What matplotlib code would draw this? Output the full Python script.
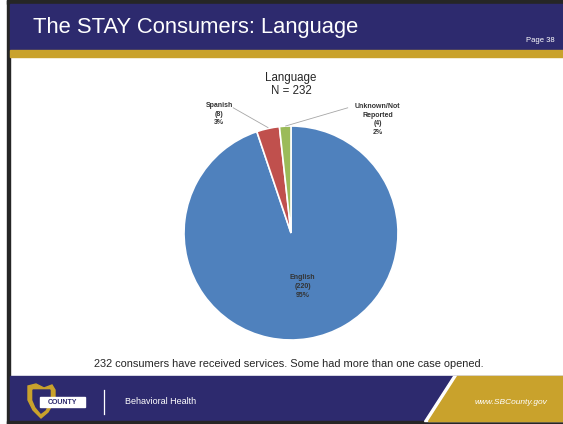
import matplotlib
matplotlib.use('Agg')
import matplotlib.pyplot as plt
from matplotlib.patches import Rectangle, Polygon

plt.rcParams['font.family'] = ['Liberation Sans', 'DejaVu Sans']

# data
labels = ['English', 'Spanish', 'Unknown/Not\nReported']
counts = [220, 8, 4]
percents = ['95%', '3%', '2%']
colors = ['#4F81BD', '#C0504D', '#9BBB59']
total = 232

W, H = 563, 424
fig = plt.figure(figsize=(W / 100, H / 100), dpi=100)

# slide background in pixel coords
bg = fig.add_axes([0, 0, 1, 1])
bg.set_xlim(0, W)
bg.set_ylim(H, 0)
bg.axis('off')

navy = '#2D2A6E'
gold = '#C9A22C'
dark = '#262626'

bg.add_patch(Rectangle((0, 0), W, H, color='white'))
bg.add_patch(Rectangle((7, 0), W, 4, color=dark))
bg.add_patch(Rectangle((7, 0), 3, H, color=dark))
bg.add_patch(Rectangle((10, 4), W, 46, color=navy))
bg.add_patch(Rectangle((10, 50), W, 7, color=gold))
bg.text(33, 28, 'The STAY Consumers: Language', color='white', fontsize=15.8,
        va='center', ha='left')
bg.text(555, 41, 'Page 38', color='white', fontsize=5.5, va='center', ha='right')

# footer
bg.add_patch(Rectangle((10, 376), W, 46, color=navy))
bg.add_patch(Rectangle((7, 421), W, 3, color=dark))
bg.add_patch(Polygon([(453, 376), (W, 376), (W, 421), (424, 421)], color='white'))
bg.add_patch(Polygon([(457, 376), (W, 376), (W, 421), (428, 421)], color=gold))
bg.plot([104, 104], [390, 414], color='white', lw=0.9)
bg.text(125, 402, 'Behavioral Health', color='white', fontsize=6.5, va='center')
bg.text(547, 402, 'www.SBCounty.gov', color='white', fontsize=6, va='center',
        ha='right', style='italic')

# logo
bg.add_patch(Polygon([(28, 386), (36, 384), (44, 388), (52, 385), (55, 390),
                      (55, 400), (48, 412), (41, 418), (33, 410), (28, 400)],
                     color=gold))
bg.add_patch(Polygon([(33, 390), (50, 390), (50, 400), (45, 410), (41, 413),
                      (36, 407), (33, 400)], color=navy))
bg.add_patch(Rectangle((40, 397), 45, 10, color='white'))
bg.text(62, 402, 'COUNTY', color=navy, fontsize=5, fontweight='bold',
        ha='center', va='center')

bg.text(289, 364, '232 consumers have received services. Some had more than one case opened.',
        fontsize=7.9, color='#262626', ha='center', va='center')

# pie
cx, cy, r = 291, 233, 107
ax = fig.add_axes([(cx - r) / W, (H - cy - r) / H, 2 * r / W, 2 * r / H])
wedges, _ = ax.pie(counts, colors=colors, startangle=90, counterclock=False,
                   wedgeprops=dict(edgecolor='white', linewidth=1.2))
ax.set_xlim(-1, 1)
ax.set_ylim(-1, 1)
ax.set_aspect('equal')
ax.axis('off')

ax.text(0, 1.39, 'Language\nN = %d' % total, ha='center', va='center',
        fontsize=8.3, color='#262626', linespacing=1.1)

lab_pos = [(0.11, -0.50), (-0.67, 1.11), (0.81, 1.06)]
for lab, c, p, (x, y) in zip(labels, counts, percents, lab_pos):
    ax.text(x, y, '%s\n(%d)\n%s' % (lab, c, p), ha='center', va='center',
            fontsize=5, fontweight='bold', color='#333333', linespacing=1.35,
            clip_on=False)

# leader lines
ax.plot([-0.54, -0.215], [1.17, 0.985], color='#A6A6A6', lw=0.6, clip_on=False)
ax.plot([-0.05, 0.53], [1.0, 1.17], color='#A6A6A6', lw=0.6, clip_on=False)

fig.savefig('out.png', dpi=100)
